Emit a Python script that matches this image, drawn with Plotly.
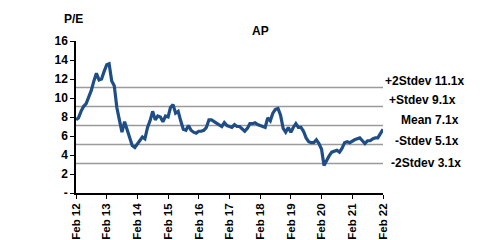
import plotly.graph_objects as go
import pandas as pd

# Monthly P/E readings, Feb 2012 .. Feb 2022
pe_values = [
    7.7, 7.9, 8.6, 9.1, 9.4, 10.0, 10.8, 11.8, 12.6, 11.9, 12.0, 12.8,
    13.5, 13.6, 11.8, 11.3, 9.0, 7.7, 6.4, 7.5, 6.6, 5.8, 5.0, 4.8,
    5.2, 5.6, 5.9, 5.7, 6.9, 7.6, 8.6, 7.7, 8.1, 8.0, 7.5, 8.1,
    8.0, 9.0, 9.3, 8.4, 8.6, 7.6, 6.7, 6.6, 7.1, 6.6, 6.4, 6.3,
    6.5, 6.5, 6.6, 6.9, 7.7, 7.7, 7.5, 7.3, 7.2, 7.0, 7.4, 7.1,
    7.0, 6.9, 7.2, 7.0, 7.0, 6.8, 6.5, 6.8, 7.3, 7.3, 7.4, 7.2,
    7.1, 7.0, 6.9, 7.9, 7.6, 8.4, 8.8, 8.9, 8.2, 6.8, 6.4, 6.9,
    6.4, 6.9, 7.3, 6.9, 6.9, 6.5, 5.8, 5.4, 5.3, 5.3, 5.6, 5.2,
    4.6, 2.9, 3.5, 3.9, 4.3, 4.4, 4.5, 4.3, 4.7, 5.3, 5.4, 5.3,
    5.5, 5.6, 5.7, 5.8, 5.5, 5.2, 5.5, 5.5, 5.7, 5.8, 5.8, 6.2,
    6.7,
]
dates = pd.date_range("2012-02-01", periods=len(pe_values), freq="MS")

band_values = [11.1, 9.1, 7.1, 5.1, 3.1]
band_labels = ["+2Stdev 11.1x", "+Stdev 9.1x", "Mean 7.1x", "-Stdev 5.1x", "-2Stdev 3.1x"]
band_label_yshift = [7, 7, 6, 4, 1]
band_label_xshift = [0, 4, 16, 10, 6]

tick_dates = [f"{y}-02-01" for y in range(2012, 2023)]
tick_text = [f"Feb {y % 100:02d}" for y in range(2012, 2023)]
y_ticks = [0, 2, 4, 6, 8, 10, 12, 14, 16]
y_tick_text = ["-", "2", "4", "6", "8", "10", "12", "14", "16"]

font = "Liberation Sans, Arial, sans-serif"

fig = go.Figure()
fig.add_trace(go.Scatter(x=dates, y=pe_values, mode="lines",
                         line=dict(color="#1F4E87", width=3.2), hoverinfo="skip"))

for v, lab, ys, xs in zip(band_values, band_labels, band_label_yshift, band_label_xshift):
    fig.add_shape(type="line", xref="paper", yref="y", x0=0, x1=1, y0=v, y1=v,
                  line=dict(color="#9a9a9a", width=1.5), layer="below")
    fig.add_annotation(xref="paper", yref="y", x=1.0, y=v, text=f"<b>{lab}</b>",
                       showarrow=False, xanchor="left", yanchor="middle",
                       xshift=xs, yshift=ys, font=dict(size=12, color="black", family=font))

fig.add_annotation(xref="paper", yref="paper", x=-0.045, y=1.144, text="<b>P/E</b>", showarrow=False,
                   xanchor="left", yanchor="middle", font=dict(size=12, color="black", family=font))
fig.add_annotation(xref="paper", yref="paper", x=0.6, y=1.066, text="<b>AP</b>", showarrow=False,
                   xanchor="center", yanchor="middle", font=dict(size=12, color="black", family=font))

# page body has an 8px default margin, so the figure is drawn 8px smaller and offset
fig.update_layout(
    width=478, height=232,
    margin=dict(l=68, r=103, t=33, b=47),
    paper_bgcolor="white", plot_bgcolor="white",
    showlegend=False,
    font=dict(family=font, color="black"),
    xaxis=dict(range=[tick_dates[0], tick_dates[-1]], tickvals=tick_dates,
               ticktext=[f"<b>{t}</b>" for t in tick_text], tickangle=-90,
               tickfont=dict(size=11.5), showgrid=False, zeroline=False,
               showline=True, linecolor="black", linewidth=1.5, automargin=False,
               ticks="outside", ticklen=4, tickcolor="black"),
    yaxis=dict(range=[0, 16], tickvals=y_ticks,
               ticktext=[f"<b>{t}</b>" for t in y_tick_text],
               tickfont=dict(size=12), showgrid=False, zeroline=False,
               showline=True, linecolor="black", linewidth=1.5, automargin=False,
               ticks="outside", ticklen=4, tickcolor="black"),
)

fig.write_html("out.html")
